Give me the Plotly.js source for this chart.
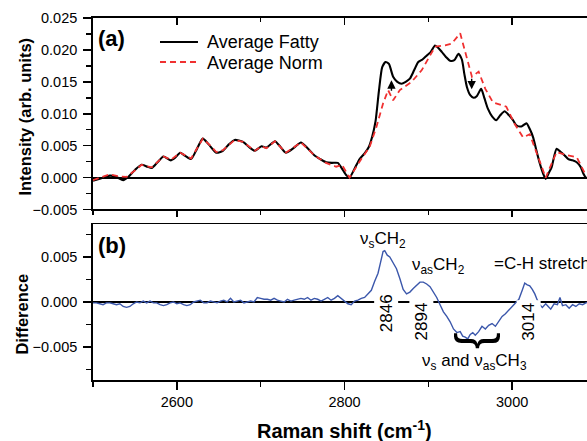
<!DOCTYPE html>
<html><head><meta charset="utf-8">
<script src="https://cdn.plot.ly/plotly-3.0.1.min.js"></script>
<style>html,body{margin:0;padding:0;overflow:hidden;background:#fff}#chart{width:600px;height:441px}</style>
</head><body><div id="chart"></div>
<script>
// ---- Data ----
const fattyX = [2500,2510,2520,2528,2536,2542,2550,2558,2565,2570,2577,2584,2593,2598,2604,2610,2617,2624,2631,2638,2647,2655,2662,2669,2679,2686,2693,2701,2707,2717,2723,2730,2740,2748,2756,2764,2771,2778,2785,2792,2797,2802,2806,2812,2818,2824,2829,2833,2837,2841,2845,2849,2853,2858,2863,2868,2873,2878,2883,2888,2893,2898,2903,2908,2912,2916,2921,2926,2931,2936,2940,2943,2946,2950,2954,2958,2963,2967,2971,2976,2981,2986,2991,2996,3001,3005,3011,3017,3021,3025,3029,3033,3037,3040,3044,3047,3053,3058,3063,3067,3072,3077,3082,3085,3088,3095,3100];
const fattyY = [-0.0005,-0.0001,0.0003,0.0001,-0.0004,0.0001,0.0012,0.0020,0.0017,0.0015,0.0024,0.0033,0.0027,0.0031,0.0039,0.0034,0.0029,0.0045,0.0061,0.0052,0.0039,0.0042,0.0052,0.0059,0.0056,0.0048,0.0042,0.0049,0.0047,0.0057,0.0049,0.0039,0.0047,0.0055,0.0046,0.0035,0.0029,0.0024,0.0023,0.0023,0.0014,0.0004,0.0000,0.0014,0.0029,0.0038,0.0048,0.0064,0.0088,0.0135,0.0173,0.0181,0.0178,0.0158,0.0150,0.0147,0.0150,0.0155,0.0168,0.0181,0.0185,0.0191,0.0197,0.0207,0.0203,0.0197,0.0189,0.0183,0.0184,0.0194,0.0185,0.0162,0.0142,0.0129,0.0125,0.0128,0.0139,0.0124,0.0108,0.0096,0.0090,0.0098,0.0104,0.0098,0.0090,0.0082,0.0080,0.0085,0.0076,0.0063,0.0042,0.0022,0.0006,-0.0002,0.0008,0.0016,0.0045,0.0040,0.0034,0.0029,0.0027,0.0024,0.0016,0.0006,0.0000,-0.0001,0.0000];

const normX = [2500,2510,2520,2530,2540,2548,2558,2570,2584,2593,2604,2617,2624,2631,2640,2647,2655,2669,2679,2693,2701,2707,2717,2730,2748,2764,2778,2790,2797,2806,2820,2830,2838,2846,2852,2858,2866,2880,2892,2908,2920,2928,2938,2946,2952,2960,2968,2977,2993,3003,3013,3021,3031,3040,3053,3063,3077,3087,3100];
const normY = [-0.0004,0.0001,0.0005,0.0002,0.0001,0.0009,0.0020,0.0016,0.0033,0.0028,0.0039,0.0030,0.0046,0.0061,0.0050,0.0040,0.0043,0.0059,0.0056,0.0042,0.0049,0.0046,0.0057,0.0039,0.0055,0.0035,0.0023,0.0017,0.0020,0.0000,0.0029,0.0048,0.0079,0.0116,0.0137,0.0121,0.0137,0.0150,0.0168,0.0205,0.0207,0.0210,0.0226,0.0189,0.0158,0.0166,0.0139,0.0118,0.0111,0.0084,0.0063,0.0068,0.0032,0.0000,0.0040,0.0036,0.0032,0.0006,0.0000];

const diffX = [2500,2504,2508,2512,2516,2520,2524,2528,2532,2536,2540,2544,2548,2552,2556,2560,2564,2568,2572,2576,2580,2584,2588,2592,2596,2600,2604,2608,2612,2616,2620,2624,2628,2632,2636,2640,2644,2648,2652,2656,2660,2664,2668,2672,2676,2680,2684,2688,2692,2696,2700,2704,2708,2712,2716,2720,2724,2728,2732,2736,2740,2744,2748,2752,2756,2760,2764,2768,2772,2776,2780,2784,2788,2792,2796,2800,2804,2808,2812,2816,2820,2824,2828,2832,2836,2840,2843,2846,2848,2851,2854,2858,2862,2866,2870,2874,2878,2882,2886,2890,2894,2898,2902,2906,2910,2914,2918,2922,2926,2930,2934,2938,2941,2944,2947,2950,2953,2956,2960,2964,2968,2972,2976,2980,2984,2988,2992,2996,3000,3004,3008,3012,3015,3018,3021,3024,3027,3030,3033,3036,3040,3043,3046,3050,3054,3057,3060,3064,3068,3072,3076,3080,3084,3088,3092,3096,3100];
const diffY = [-0.0001,-0.0001,-0.0002,-0.0003,-0.0001,-0.0001,-0.0002,-0.0003,-0.0002,-0.0005,-0.0006,-0.0005,-0.0002,0.0000,-0.0001,0.0001,-0.0001,0.0001,-0.0001,-0.0001,-0.0003,-0.0004,-0.0003,-0.0001,0.0000,-0.0002,-0.0001,-0.0003,-0.0004,-0.0003,0.0000,0.0001,0.0002,-0.0001,-0.0001,0.0001,0.0000,-0.0001,0.0001,0.0002,0.0000,0.0004,0.0000,0.0001,0.0002,-0.0001,0.0000,0.0001,0.0000,0.0005,0.0004,0.0003,0.0003,0.0002,0.0004,0.0002,0.0001,0.0000,0.0003,0.0001,0.0002,0.0003,0.0004,0.0003,0.0005,0.0002,0.0004,0.0003,0.0001,0.0003,0.0005,0.0002,0.0004,0.0007,0.0004,0.0001,-0.0002,-0.0003,0.0001,0.0002,0.0004,0.0005,0.0009,0.0013,0.0023,0.0032,0.0044,0.0056,0.0057,0.0052,0.0050,0.0044,0.0037,0.0026,0.0014,0.0009,0.0011,0.0015,0.0018,0.0022,0.0022,0.0020,0.0017,0.0011,0.0005,-0.0003,-0.0011,-0.0016,-0.0022,-0.0030,-0.0034,-0.0033,-0.0038,-0.0039,-0.0041,-0.0036,-0.0034,-0.0037,-0.0033,-0.0027,-0.0030,-0.0026,-0.0024,-0.0027,-0.0022,-0.0016,-0.0013,-0.0009,-0.0004,-0.0001,0.0003,0.0013,0.0021,0.0019,0.0018,0.0014,0.0009,0.0002,-0.0003,-0.0006,-0.0002,-0.0005,-0.0008,-0.0002,-0.0003,0.0005,-0.0004,-0.0003,-0.0007,-0.0003,-0.0005,-0.0002,-0.0003,-0.0001,0.0000,-0.0002,-0.0001];

const seriesNames = ['Average Fatty', 'Average Norm'];
const peakLabels = ['2846', '2894', '3014'];
const peakPos = [2850, 2892, 3020];

// ---- Styling ----
const F = 'Arial, "Liberation Sans", sans-serif';
const BLK = '#000';
const RED = '#f03030';
const base = {showgrid:false, zeroline:false, linecolor:BLK, linewidth:1.8, tickcolor:BLK, tickwidth:1.5,
  tickfont:{family:F, size:14.5, color:BLK}, showline:true};

const traces = [
  {x:fattyX, y:fattyY, xaxis:'x', yaxis:'y', type:'scatter', mode:'lines', name:seriesNames[0], showlegend:false,
   line:{color:BLK, width:2.1, shape:'spline', smoothing:0.6}, hoverinfo:'skip'},
  {x:normX, y:normY, xaxis:'x3', yaxis:'y', type:'scatter', mode:'lines', name:seriesNames[1], showlegend:false,
   line:{color:RED, width:1.8, dash:'6px,4px'}, hoverinfo:'skip'},
  {x:diffX, y:diffY, xaxis:'x2', yaxis:'y2', type:'scatter', mode:'lines', showlegend:false,
   line:{color:'#3b57ab', width:1.4}, hoverinfo:'skip'}
];

const annFont = {family:F, size:17, color:BLK};
const annotations = [
  {xref:'paper', yref:'paper', x:-0.135, y:0.728, text:'<b>Intensity (arb. units)</b>', textangle:-90,
   showarrow:false, font:{family:F, size:16.5, color:BLK}, xanchor:'center', yanchor:'middle'},
  {xref:'paper', yref:'paper', x:-0.141, y:0.181, text:'<b>Difference</b>', textangle:-90,
   showarrow:false, font:{family:F, size:16.5, color:BLK}, xanchor:'center', yanchor:'middle'},
  {xref:'paper', yref:'paper', x:0.5, y:-0.138, text:'<b>Raman shift (cm<sup>-1</sup>)</b>',
   showarrow:false, font:{family:F, size:20, color:BLK}, xanchor:'center', yanchor:'middle'},
  {xref:'paper', yref:'paper', x:0.006, y:0.942, text:'<b>(a)</b>', showarrow:false,
   font:{family:F, size:22, color:BLK}, xanchor:'left', yanchor:'middle'},
  {xref:'paper', yref:'paper', x:0.006, y:0.371, text:'<b>(b)</b>', showarrow:false,
   font:{family:F, size:22, color:BLK}, xanchor:'left', yanchor:'middle'},
  // legend texts
  {xref:'paper', yref:'paper', x:0.2227, y:0.9337, text:seriesNames[0], showarrow:false,
   font:{family:F, size:18, color:BLK}, xanchor:'left', yanchor:'middle'},
  {xref:'paper', yref:'paper', x:0.2227, y:0.8757, text:seriesNames[1], showarrow:false,
   font:{family:F, size:18, color:BLK}, xanchor:'left', yanchor:'middle'},
  {xref:'x2', yref:'y2', x:2846, y:0.0069, text:'ν<sub>s</sub>CH<sub>2</sub>', showarrow:false, font:annFont},
  {xref:'x2', yref:'y2', x:2912, y:0.0040, text:'ν<sub>as</sub>CH<sub>2</sub>', showarrow:false, font:annFont},
  {xref:'x2', yref:'y2', x:2976, y:0.0043, text:'=C-H stretch', showarrow:false, font:annFont, xanchor:'left'},
  {xref:'x2', yref:'y2', x:2955, y:-0.0067, text:'ν<sub>s</sub> and ν<sub>as</sub>CH<sub>3</sub>', showarrow:false, font:annFont},
  {xref:'x2', yref:'y2', x:2963, y:-0.0043, text:'}', textangle:90, showarrow:false,
   font:{family:F, size:50, color:BLK}},
  {xref:'x', yref:'y', x:2856, y:0.01523, ax:0, ay:12, text:'', showarrow:true, arrowhead:2, arrowsize:1.2, arrowwidth:1.4, arrowcolor:BLK},
  {xref:'x', yref:'y', x:2951.7, y:0.01382, ax:0, ay:-12, text:'', showarrow:true, arrowhead:2, arrowsize:1.2, arrowwidth:1.4, arrowcolor:BLK}
];
peakLabels.forEach((t, i) => annotations.push({xref:'x2', yref:'y2', x:peakPos[i], y:(i===0?-0.0012:-0.0022),
  text:t, textangle:-90, showarrow:false, font:annFont, bgcolor:'#fff', borderpad:2}));

// legend line samples
const shapes = [
  {type:'line', xref:'paper', yref:'paper', x0:0.1332, x1:0.2087, y0:0.9337, y1:0.9337, line:{color:BLK, width:2.1}},
  {type:'line', xref:'paper', yref:'paper', x0:0.1332, x1:0.2087, y0:0.8785, y1:0.8785, line:{color:RED, width:1.8, dash:'6px,4px'}}
];

const layout = {
  width:600, height:441, margin:{l:93, r:4, t:18, b:61},
  paper_bgcolor:'#fff', plot_bgcolor:'#fff',
  font:{family:F, color:BLK},
  showlegend:false,
  xaxis:Object.assign({}, base, {domain:[0,1], range:[2500,3100], anchor:'y', ticks:'outside', ticklen:6,
    tick0:0, dtick:200, showticklabels:false, minor:{dtick:100, ticks:'outside', ticklen:4, tickcolor:BLK, tickwidth:1.5}}),
  xaxis3:Object.assign({}, base, {overlaying:'x', anchor:'y', side:'top', range:[2500,3100], ticks:'inside', ticklen:7,
    tick0:0, dtick:200, showticklabels:false, minor:{dtick:100, ticks:'inside', ticklen:4, tickcolor:BLK, tickwidth:1.5}}),
  yaxis:Object.assign({}, base, {domain:[0.471,1], range:[-0.005,0.025], anchor:'x', mirror:true, ticks:'outside', ticklen:8,
    dtick:0.005, tickformat:'.3f', ticklabelstandoff:3,
    minor:{dtick:0.0025, ticks:'outside', ticklen:5, tickcolor:BLK, tickwidth:1.5},
    zeroline:true, zerolinecolor:BLK, zerolinewidth:2}),
  xaxis2:Object.assign({}, base, {domain:[0,1], range:[2500,3100], anchor:'y2', mirror:true, ticks:'outside', ticklen:8,
    tick0:0, dtick:200, tickformat:'d', minor:{dtick:100, ticks:'outside', ticklen:5, tickcolor:BLK, tickwidth:1.5}}),
  yaxis2:Object.assign({}, base, {domain:[0,0.4296], range:[-0.00867,0.00861], anchor:'x2', mirror:true, ticks:'outside', ticklen:8,
    dtick:0.005, tickformat:'.3f', ticklabelstandoff:3,
    minor:{dtick:0.0025, ticks:'outside', ticklen:5, tickcolor:BLK, tickwidth:1.5},
    zeroline:true, zerolinecolor:BLK, zerolinewidth:2}),
  annotations:annotations,
  shapes:shapes
};

Plotly.newPlot('chart', traces, layout, {displayModeBar:false, staticPlot:true});
</script>
</body></html>
